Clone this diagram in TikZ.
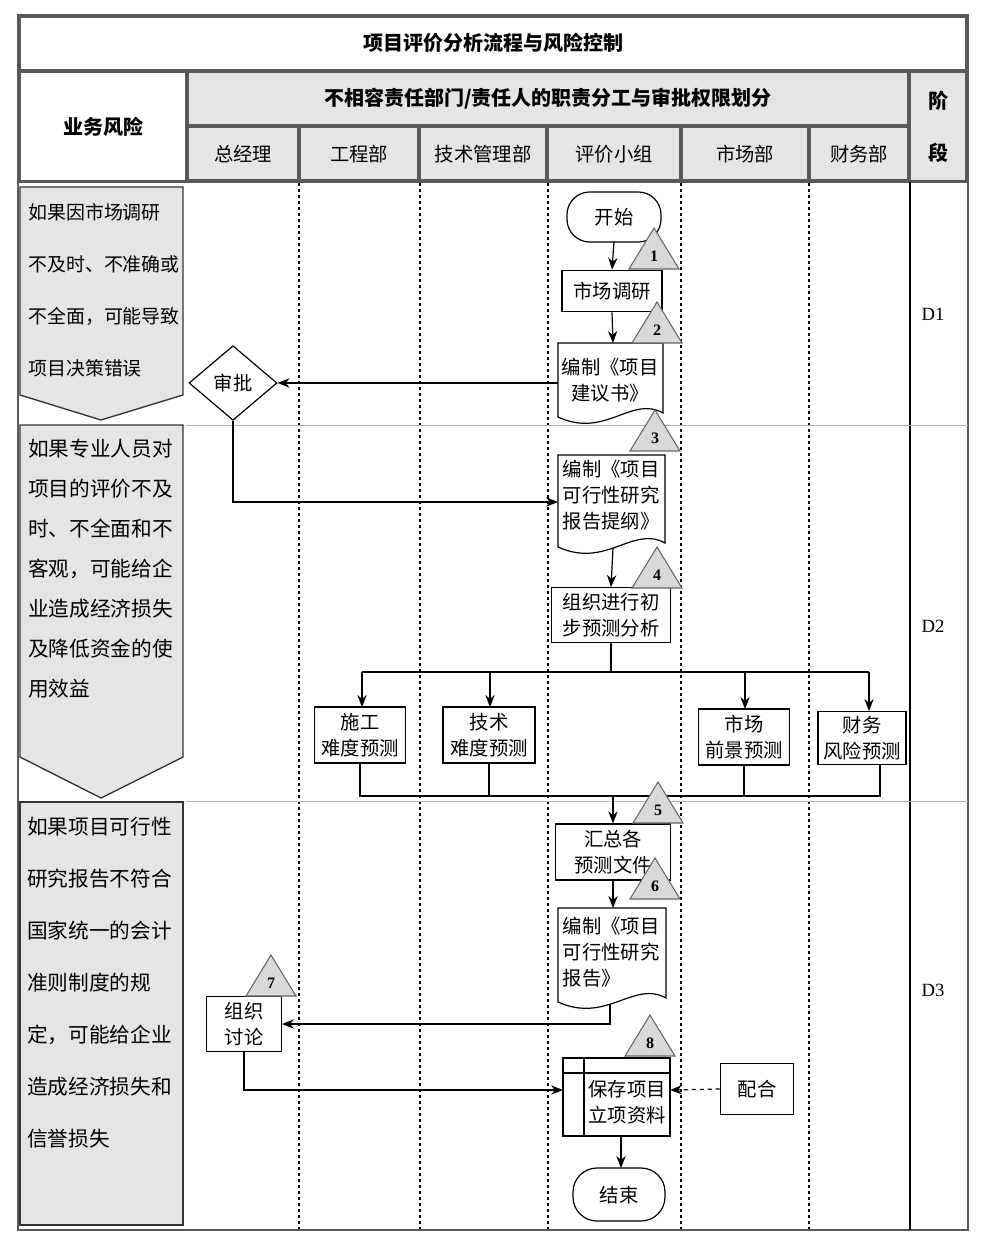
\documentclass[tikz,border=0pt]{standalone}
\usepackage{fontspec}
\setmainfont{Liberation Serif}
\newfontfamily\cjk{Noto Sans CJK SC}
\usetikzlibrary{arrows.meta,shapes.geometric}
\begin{document}
\begin{tikzpicture}[x=0.75pt,y=-0.75pt,
  txt/.style={font=\cjk\fontsize{14.5}{16}\selectfont},
  hdr/.style={fill=gray!20,draw=gray!70!black,line width=0.8pt},
  box/.style={draw,line width=0.9pt,fill=white,font=\cjk\fontsize{14.5}{19}\selectfont,align=center,inner sep=1pt},
  arr/.style={-{Stealth[length=9pt,width=7pt]},line width=0.9pt},
  ln/.style={line width=0.9pt},
  tri/.style={fill=gray!30,draw=gray!80!black,line width=0.8pt},
  lane/.style={line width=1.6pt,dash pattern=on 2pt off 2.5pt},
  risk/.style={fill=gray!20,draw=black!80,line width=1pt},
  risktxt/.style={font=\cjk\fontsize{14.2}{39}\selectfont,align=left,anchor=north west,inner sep=0pt}]
\useasboundingbox (0,0) rectangle (987,1255);
% frame
\draw[line width=1pt,draw=gray!70!black] (18,15) rectangle (968,1230);
\draw[line width=0.8pt,draw=gray!70!black] (20,17) rectangle (966,70);
\node[font=\cjk\bfseries\fontsize{15}{16}\selectfont] (title) at (493,43) {项目评价分析流程与风险控制};
\draw[line width=0.8pt,draw=gray!70!black] (20,72) rectangle (186,181);
\node[font=\cjk\bfseries\fontsize{15}{16}\selectfont] (yw) at (103,127) {业务风险};
\draw[hdr] (188,72) rectangle (908,125);
\node[font=\cjk\bfseries\fontsize{15}{16}\selectfont] (h2) at (548,99) {不相容责任部门/责任人的职责分工与审批权限划分};
\draw[hdr] (910,72) rectangle (966,181);
\node[font=\cjk\bfseries\fontsize{15}{16}\selectfont] (jd1) at (938,101) {阶};
\node[font=\cjk\bfseries\fontsize{15}{16}\selectfont] (jd2) at (938,153) {段};
\foreach \a/\b/\t in {188/298/总经理,300/418/工程部,420/546/技术管理部,548/680/评价小组,682/808/市场部,810/908/财务部}{
  \draw[hdr] (\a,127) rectangle (\b,180);
  \node[txt] at ({(\a+\b)/2},154) {\t};
}
\draw[line width=0.8pt,draw=gray!70!black] (18,182) -- (968,182);
% lanes
\foreach \x in {299,420,548,681,809}{\draw[lane] (\x,183) -- (\x,1229);}
\draw[line width=0.8pt] (910,182) -- (910,1230);
\draw[draw=gray!60,line width=0.6pt] (186,425) -- (968,425);
\draw[draw=gray!60,line width=0.6pt] (186,801) -- (968,801);
\node[font=\fontsize{14}{15}\selectfont] (d1) at (933,314) {D1};
\node[font=\fontsize{14}{15}\selectfont] (d2) at (933,626) {D2};
\node[font=\fontsize{14}{15}\selectfont] (d3) at (933,990) {D3};
% risk column
\draw[risk] (20,187) -- (183,187) -- (183,395) -- (101,420) -- (20,395) -- cycle;
\node[risktxt] (r1) at (28,203) {如果因市场调研\\不及时、不准确或\\不全面，可能导致\\项目决策错误};
\draw[risk] (20,425) -- (183,425) -- (183,757) -- (101,798) -- (20,757) -- cycle;
\node[risktxt,font=\cjk\fontsize{15.5}{30}\selectfont] (r2) at (28,439) {如果专业人员对\\项目的评价不及\\时、不全面和不\\客观，可能给企\\业造成经济损失\\及降低资金的使\\用效益};
\draw[risk] (20,802) rectangle (183,1225);
\node[risktxt,font=\cjk\fontsize{15.5}{39}\selectfont] (r3) at (27,817) {如果项目可行性\\研究报告不符合\\国家统一的会计\\准则制度的规\\定，可能给企业\\造成经济损失和\\信誉损失};
% nodes
\draw[ln,rounded corners=17pt] (567,192) rectangle (661,242);
\node[txt] (start) at (614,217) {开始};
\node[box,minimum width=75pt,minimum height=31pt] (sc) at (612,291) {市场调研};
\newcommand\docshape[4]{\draw[ln,fill=white] (#1,#2) -- (#3,#2) -- (#3,#4-12) .. controls (#3-0.3*#3+0.3*#1,#4-30) and (#1+0.45*#3-0.45*#1,#4+14) .. (#1,#4-8) -- cycle;}
\docshape{558}{343}{663}{425}
\node[txt,align=center,font=\cjk\fontsize{14.5}{19.5}\selectfont] (doc1t) at (610,380) {编制《项目\\建议书》};
\node[draw,ln,diamond,aspect=1.2,minimum width=66pt,minimum height=56pt,inner sep=0pt,txt] (sp) at (233,383) {审批};
\draw[arr] (558,383) -- (sp.east);
\docshape{558}{455}{665}{555}
\node[txt,align=left,font=\cjk\fontsize{14.5}{19.5}\selectfont] (doc2t) at (611,495) {编制《项目\\可行性研究\\报告提纲》};
\draw[arr] (sp.south) |- (558,502);
\draw[arr] (sc.south) -- (613,343);
\draw[arr] (614,242) -- (sc.north);
\node[box,minimum width=89pt,minimum height=41pt] (zz) at (611,615) {组织进行初\\步预测分析};
\draw[arr] (613,548) -- (zz.north);
\node[box,minimum width=68pt,minimum height=42pt] (sg) at (360,735) {施工\\难度预测};
\node[box,minimum width=69pt,minimum height=42pt] (js) at (489,735) {技术\\难度预测};
\node[box,minimum width=68pt,minimum height=42pt] (sc2) at (744,737) {市场\\前景预测};
\node[box,minimum width=66pt,minimum height=40pt] (cw) at (862,738) {财务\\风险预测};
\coordinate (sp1) at (611,672);
\draw[ln] (zz.south) -- (sp1);
\draw[ln] (362,672) -- (869,672);
\draw[arr] (362,672) -- (362,707);
\draw[arr] (490,672) -- (490,707);
\draw[arr] (745,672) -- (745,709);
\draw[arr] (869,672) -- (869,711);
\node[box,minimum width=86pt,minimum height=42pt] (hz) at (613,852) {汇总各\\预测文件};
\draw[ln] (sg.south) -- (360,796) -- (880,796) -- (880,765);
\draw[ln] (js.south) -- (489,796);
\draw[ln] (sc2.south) -- (744,796);
\draw[arr] (613,796) -- (hz.north);
\docshape{558}{908}{666}{1010}
\node[txt,align=left,font=\cjk\fontsize{14.5}{19.5}\selectfont] (doc3t) at (611,952) {编制《项目\\可行性研究\\报告》};
\draw[arr] (hz.south) -- (613,908);
\node[box,minimum width=56pt,minimum height=41pt] (tl) at (244,1024) {组织\\讨论};
\draw[arr] (610,1004) |- (tl.east);
\draw[ln,fill=white] (563,1058) rectangle (670,1136);
\draw[ln] (563,1073) -- (670,1073);
\draw[ln] (584,1058) -- (584,1136);
\node[txt,align=left,font=\cjk\fontsize{14.5}{19.5}\selectfont] (bc) at (627,1102) {保存项目\\立项资料};
\coordinate (bcl) at (563,1090);
\coordinate (bcr) at (670,1090);
\draw[arr] (tl.south) |- (bcl);
\node[box,minimum width=55pt,minimum height=38pt] (ph) at (757,1089) {配合};
\draw[arr,dashed] (ph.west) -- (bcr);
\draw[ln,rounded corners=18pt] (573,1168) rectangle (665,1221);
\node[txt] (end) at (619,1195) {结束};
\draw[arr] (621,1136) -- (621,1168);
% triangles
\foreach \cx/\ap/\n in {654/228/1,657/302/2,655/410/3,657/547/4,658/782/5,655/858/6,271/955/7,650/1015/8}{
  \draw[tri] (\cx-25,\ap+41) -- (\cx,\ap) -- (\cx+25,\ap+41) -- cycle;
  \node[font=\bfseries\fontsize{12}{14}\selectfont] at (\cx,\ap+28) {\n};
}
\end{tikzpicture}
\end{document}
